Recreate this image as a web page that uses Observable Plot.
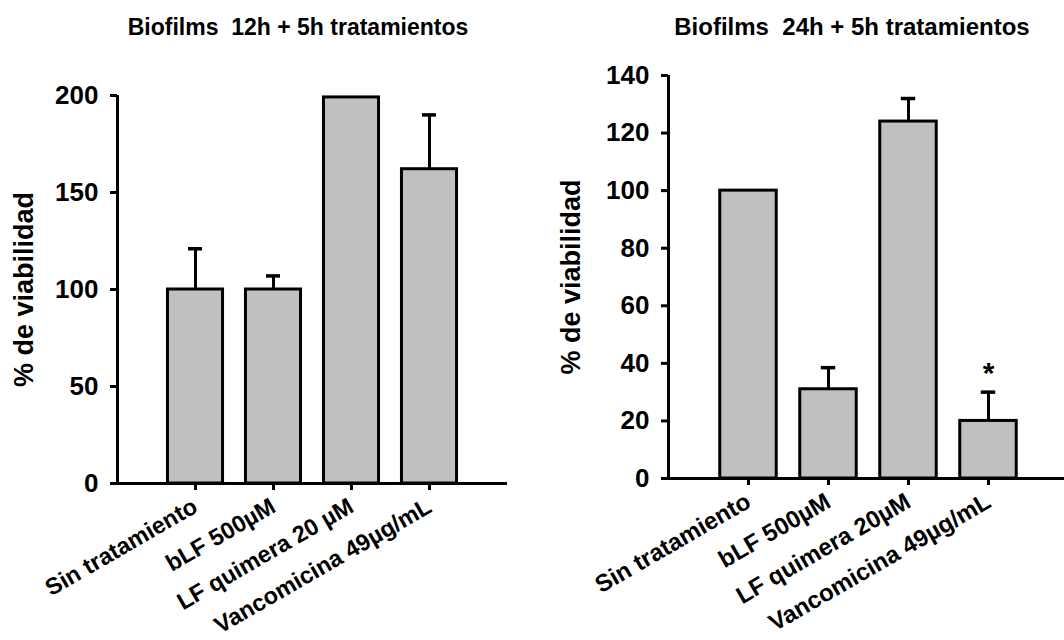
<!DOCTYPE html>
<html>
<head>
<meta charset="utf-8">
<script src="https://cdn.jsdelivr.net/npm/d3@7"></script>
<script src="https://cdn.jsdelivr.net/npm/@observablehq/plot@0.6"></script>
<style>
  html, body { margin: 0; padding: 0; background: #ffffff; }
  #wrap { position: relative; width: 1064px; height: 640px; display: flex; background: #ffffff; overflow: hidden; }
  #wrap svg { overflow: visible; }
</style>
</head>
<body>
<div id="wrap"></div>
<script>
// ---- Data ----
const title12 = "Biofilms  12h + 5h tratamientos";
const categories12 = ["Sin tratamiento", "bLF 500µM", "LF quimera 20 µM", "Vancomicina 49µg/mL"];
const viabilidad12 = [100, 100, 199, 162];
const error12 = [21, 7, 0, 28];
const yTicks12 = [0, 50, 100, 150, 200];

const title24 = "Biofilms  24h + 5h tratamientos";
const categories24 = ["Sin tratamiento", "bLF 500µM", "LF quimera 20µM", "Vancomicina 49µg/mL"];
const viabilidad24 = [100, 31, 124, 20];
const error24 = [0, 7.5, 8, 10];
const signif24 = ["", "", "", "*"];
const yTicks24 = [0, 20, 40, 60, 80, 100, 120, 140];

const yLabel = "% de viabilidad";

function makeTable(cats, vals, errs, sig) {
  return cats.map((c, i) => ({i, cat: c, v: vals[i], e: errs[i], sig: sig ? sig[i] : ""}));
}

function panel(opts) {
  const {title, cats, vals, errs, sig, yTicks, yMax, xMax, margins, titleDx, titleDy, titleSize, yLabelDx, xFont} = opts;
  const data = makeTable(cats, vals, errs, sig);
  const withErr = data.filter(d => d.e > 0);
  const half = 0.353, cap = 0.09;
  return Plot.plot({
    width: 532,
    height: 640,
    marginLeft: margins[0],
    marginRight: margins[1],
    marginTop: margins[2],
    marginBottom: margins[3],
    style: "font-family: 'Liberation Sans', Arial, sans-serif; font-weight: bold; color: #000; background: transparent; overflow: visible;",
    x: {domain: [-1, xMax], axis: null},
    y: {domain: [0, yMax], axis: null},
    marks: [
      Plot.rectY(data, {x1: d => d.i - half, x2: d => d.i + half, y1: 0, y2: "v", fill: "#c0c0c0", stroke: "#000", strokeWidth: 3}),
      Plot.ruleX(withErr, {x: "i", y1: "v", y2: d => d.v + d.e, stroke: "#000", strokeWidth: 3}),
      Plot.ruleY(withErr, {y: d => d.v + d.e, x1: d => d.i - cap, x2: d => d.i + cap, stroke: "#000", strokeWidth: 3.5}),
      Plot.text(data.filter(d => d.sig), {x: "i", y: d => d.v + d.e, text: "sig", dy: -19, fontSize: 30, fontWeight: "bold"}),
      Plot.ruleX([-1], {y1: 0, y2: yMax, stroke: "#000", strokeWidth: 3}),
      Plot.ruleY([0], {x1: -1.05, x2: xMax, stroke: "#000", strokeWidth: 3}),
      Plot.axisY({ticks: yTicks, tickSize: 7, tickPadding: 12, strokeWidth: 3, fontSize: 26, fontWeight: "bold", label: null}),
      Plot.axisX({ticks: [0, 1, 2, 3], tickFormat: i => cats[i], tickRotate: -30, tickSize: 7, tickPadding: 14, strokeWidth: 3, fontSize: xFont, fontWeight: "bold", label: null}),
      Plot.text([yLabel], {frameAnchor: "left", rotate: -90, dx: yLabelDx, textAnchor: "middle", lineAnchor: "middle", fontSize: 27, fontWeight: "bold"}),
      Plot.text([title], {frameAnchor: "top-left", dx: titleDx, dy: titleDy, textAnchor: "middle", lineAnchor: "bottom", fontSize: titleSize, fontWeight: "bold"})
    ]
  });
}

const wrap = document.getElementById("wrap");
wrap.appendChild(panel({
  title: title12, cats: categories12, vals: viabilidad12, errs: error12, sig: null,
  yTicks: yTicks12, yMax: 200, xMax: 4,
  margins: [117, 25, 95, 157], titleDx: 180.5, titleDy: -61, titleSize: 23, yLabelDx: -93, xFont: 23.5
}));
wrap.appendChild(panel({
  title: title24, cats: categories24, vals: viabilidad24, errs: error24, sig: signif24,
  yTicks: yTicks24, yMax: 140, xMax: 3.95,
  margins: [136, 0, 75, 162], titleDx: 183.5, titleDy: -41, titleSize: 24, yLabelDx: -97, xFont: 24
}));
</script>
</body>
</html>
